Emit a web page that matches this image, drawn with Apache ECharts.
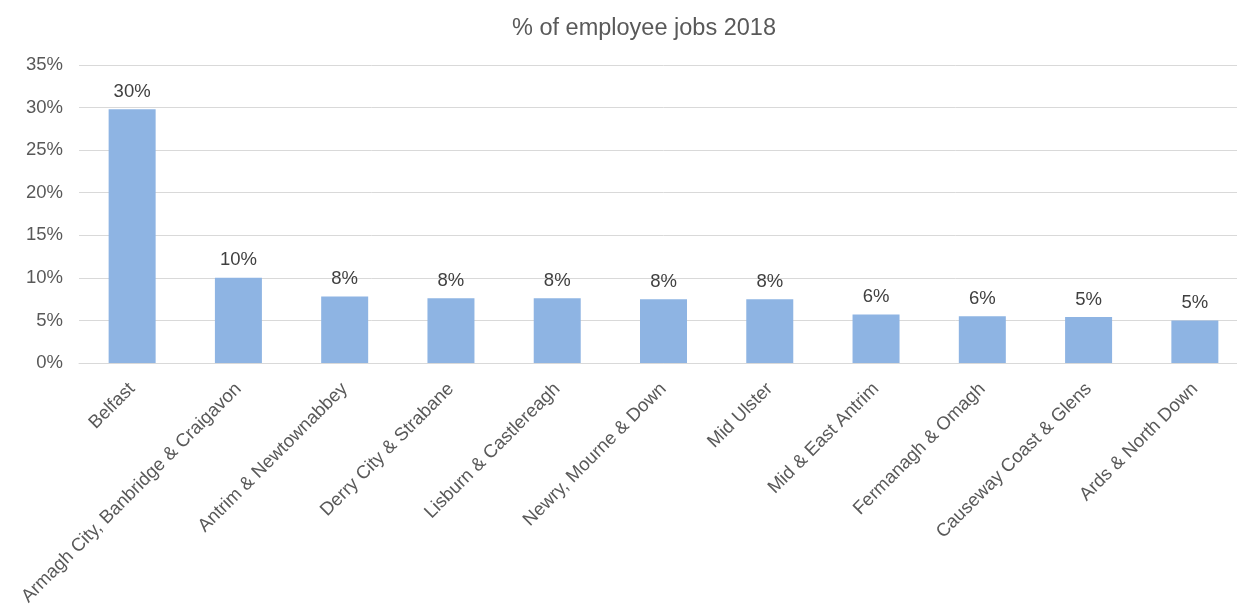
<!DOCTYPE html>
<html>
<head>
<meta charset="utf-8">
<script src="https://cdn.jsdelivr.net/npm/echarts@6/dist/echarts.min.js"></script>
<style>html,body{margin:0;padding:0;background:#fff;overflow:hidden;width:1237px;height:612px}#c{width:1248px;height:612px}</style>
</head>
<body>
<div id="c"></div>
<script>
const titleText = '% of employee jobs 2018';
const categories = ['Belfast', 'Armagh City, Banbridge & Craigavon', 'Antrim & Newtownabbey', 'Derry City & Strabane', 'Lisburn & Castlereagh', 'Newry, Mourne & Down', 'Mid Ulster', 'Mid & East Antrim', 'Fermanagh & Omagh', 'Causeway Coast & Glens', 'Ards & North Down'];
const values = [29.8, 10.0, 7.8, 7.6, 7.6, 7.5, 7.5, 5.7, 5.5, 5.4, 5.0];
const yMin = 0, yMax = 35, yStep = 5;

const font = 'Liberation Sans, Arial, sans-serif';
const chart = echarts.init(document.getElementById('c'), null, {renderer: 'canvas'});
chart.setOption({
  animation: false,
  backgroundColor: '#fff',
  title: {
    text: titleText,
    left: 639, top: 12, textAlign: 'center',
    textStyle: {fontFamily: font, fontSize: 23.5, fontWeight: 'normal', color: '#595959'}
  },
  grid: {left: 79, top: 65, right: 0, height: 298, containLabel: false},
  xAxis: {
    type: 'category',
    data: categories,
    axisTick: {show: false},
    axisLine: {lineStyle: {color: '#D9D9D9'}},
    axisLabel: {interval: 0, rotate: 45, margin: 23, fontFamily: font, fontSize: 18.5, color: '#595959'}
  },
  yAxis: {
    type: 'value',
    min: yMin, max: yMax, interval: yStep,
    axisLine: {show: false},
    axisTick: {show: false},
    splitLine: {lineStyle: {color: '#D9D9D9'}},
    axisLabel: {formatter: '{value}%', margin: 16, fontFamily: font, fontSize: 18.5, color: '#595959'}
  },
  series: [{
    type: 'bar',
    data: values,
    barWidth: 47,
    itemStyle: {color: '#8EB4E3'},
    label: {
      show: true, position: 'top', distance: 8,
      formatter: p => Math.round(p.value) + '%',
      fontFamily: font, fontSize: 18.5, color: '#404040'
    }
  }]
});
</script>
</body>
</html>
